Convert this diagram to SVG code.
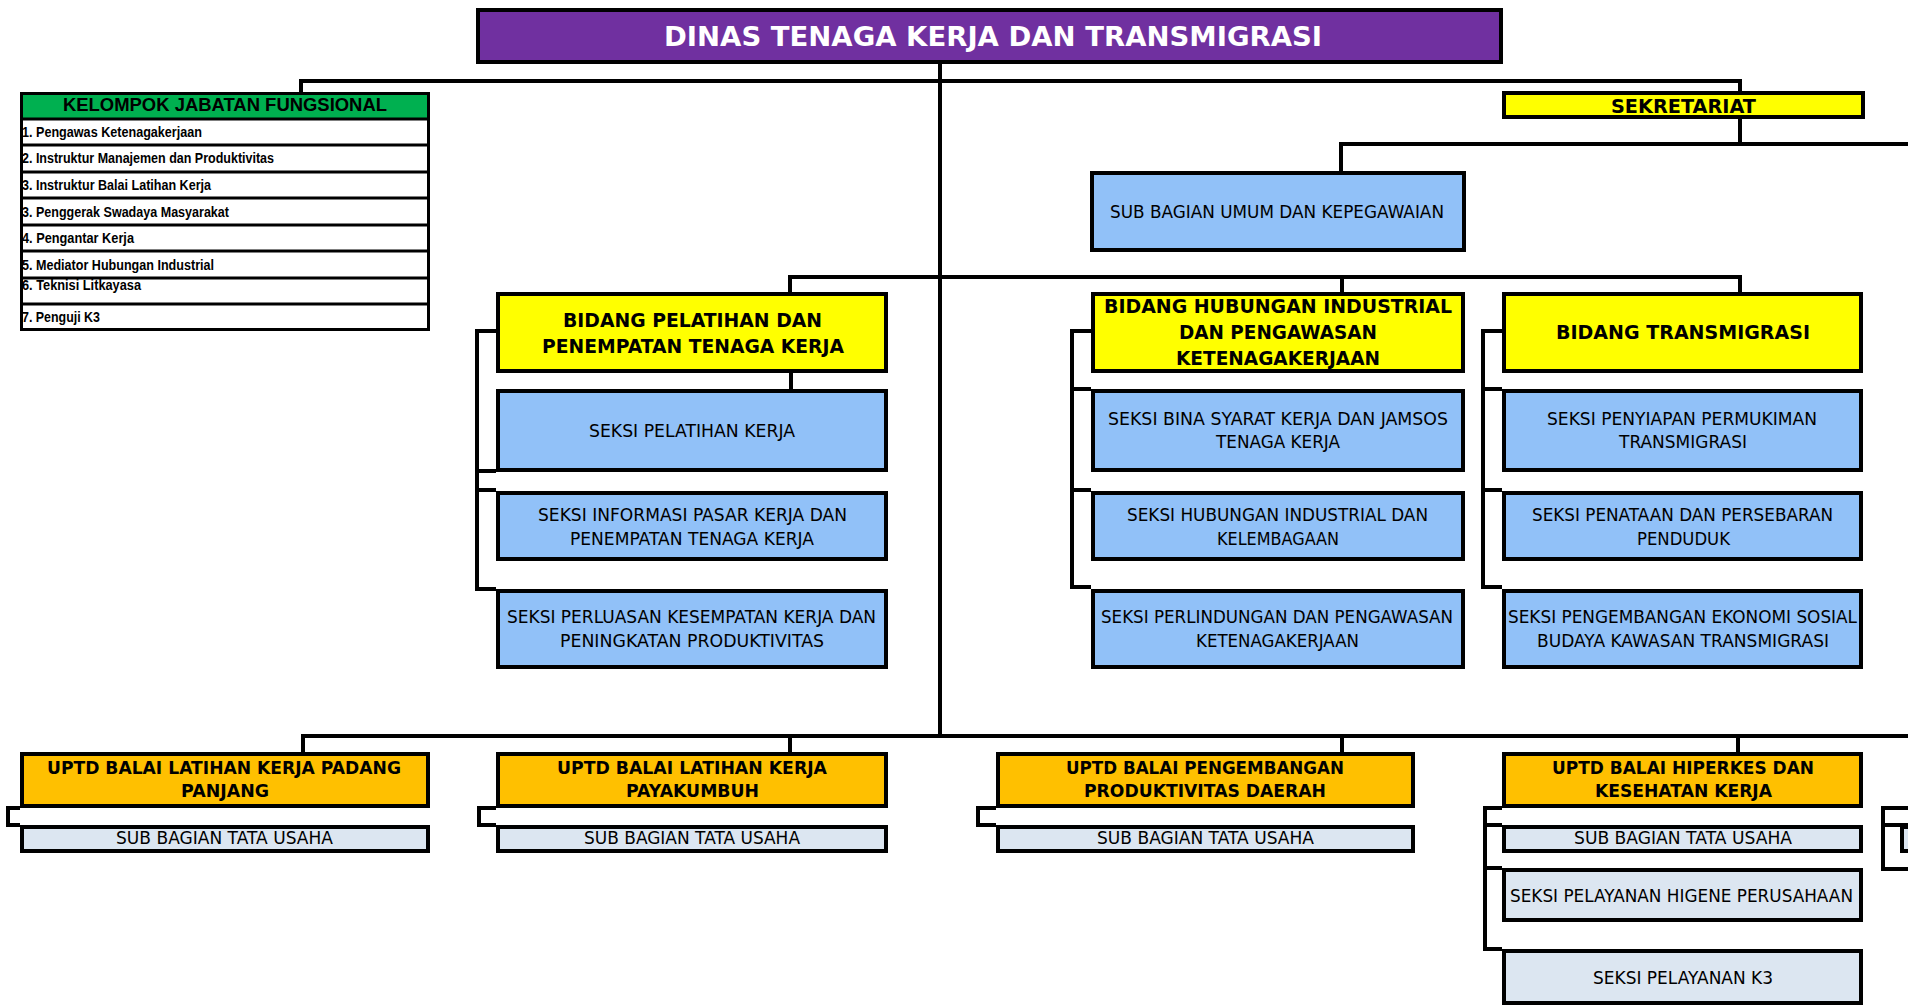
<svg xmlns="http://www.w3.org/2000/svg" width="1908" height="1005" viewBox="0 0 1908 1005">
<style>
.bx{stroke:#000;stroke-width:4}
.ti{fill:#7030A0}
.gr{fill:#00B050}
.ye{fill:#FFFF00}
.bl{fill:#91C1F8}
.or{fill:#FFC000}
.lg{fill:#DCE6F1}
.cn{fill:none;stroke:#000;stroke-width:4}
text{font-family:"DejaVu Sans","Liberation Sans",sans-serif;fill:#000;text-anchor:middle}
.tb{font-weight:bold;font-size:27px;fill:#FFFFFF}
.hb{font-weight:bold;font-size:20px}
.ub{font-weight:bold;font-size:18px}
.sr{font-size:18px}
.tu{font-size:17px}
.kh{font-family:"Liberation Sans",Arial,sans-serif;font-weight:bold;font-size:19px}
.li{font-family:"Liberation Sans",Arial,sans-serif;font-weight:bold;font-size:14px;text-anchor:start}
</style>
<rect width="1908" height="1005" fill="#FFFFFF"/>
<g id="connectors">
<path class="cn" d="M940,64 V738"/>
<path class="cn" d="M301,92 V81 H1740 V91"/>
<path class="cn" d="M1740,119 V144"/>
<path class="cn" d="M1341,171 V144 H1908"/>
<path class="cn" d="M790,292 V277 H1740 V292"/>
<path class="cn" d="M1342,277 V292"/>
<path class="cn" d="M791,373 V389"/>
<path class="cn" d="M496,331 H477 V589 H496 M477,471 H496 M477,490 H496"/>
<path class="cn" d="M1091,331 H1072 V587 H1091 M1072,389 H1091 M1072,490 H1091"/>
<path class="cn" d="M1502,331 H1483 V587 H1502 M1483,389 H1502 M1483,490 H1502"/>
<path class="cn" d="M303,752 V736 H1908"/>
<path class="cn" d="M790,736 V752 M1342,736 V752 M1738,736 V752"/>
<path class="cn" d="M20,808 H8 V825 H20"/>
<path class="cn" d="M496,808 H479 V825 H496"/>
<path class="cn" d="M996,808 H978 V825 H996"/>
<path class="cn" d="M1502,808 H1485 V949 H1502 M1485,825 H1502 M1485,868 H1502"/>
<path class="cn" d="M1908,808 H1883 V869 H1908 M1883,825 H1908"/>
</g>
<g id="title">
<rect class="bx ti" x="478" y="10" width="1023" height="52"/>
<text class="tb" x="993" y="46" textLength="658" lengthAdjust="spacingAndGlyphs">DINAS TENAGA KERJA DAN TRANSMIGRASI</text>
</g>
<g id="kelompok">
<rect x="21.5" y="93.5" width="407" height="25" class="gr"/>
<rect x="21.5" y="93.5" width="407" height="236" fill="none" stroke="#000" stroke-width="3"/>
<path fill="none" stroke="#000" stroke-width="3" d="M20,119 H430 M20,145 H430 M20,172 H430 M20,198 H430 M20,225 H430 M20,251 H430 M20,278 H430 M20,304 H430"/>
<text class="kh" x="225" y="111" textLength="324" lengthAdjust="spacingAndGlyphs">KELOMPOK JABATAN FUNGSIONAL</text>
<text class="li" x="22" y="137" textLength="180" lengthAdjust="spacingAndGlyphs">1.  Pengawas Ketenagakerjaan</text>
<text class="li" x="22" y="163" textLength="252" lengthAdjust="spacingAndGlyphs">2.  Instruktur Manajemen dan Produktivitas</text>
<text class="li" x="22" y="190" textLength="189" lengthAdjust="spacingAndGlyphs">3.  Instruktur Balai Latihan Kerja</text>
<text class="li" x="22" y="217" textLength="207" lengthAdjust="spacingAndGlyphs">3.  Penggerak Swadaya Masyarakat</text>
<text class="li" x="22" y="243" textLength="112" lengthAdjust="spacingAndGlyphs">4.  Pengantar Kerja</text>
<text class="li" x="22" y="270" textLength="192" lengthAdjust="spacingAndGlyphs">5.  Mediator Hubungan Industrial</text>
<text class="li" x="22" y="290" textLength="119" lengthAdjust="spacingAndGlyphs">6.  Teknisi Litkayasa</text>
<text class="li" x="22" y="322" textLength="78" lengthAdjust="spacingAndGlyphs">7.  Penguji K3</text>
</g>
<g id="sekretariat">
<rect class="bx ye" x="1504" y="93" width="359" height="24"/>
<text class="hb" x="1683.5" y="113" textLength="145" lengthAdjust="spacingAndGlyphs">SEKRETARIAT</text>
</g>
<g id="sub-umum">
<rect class="bx bl" x="1092" y="173" width="372" height="77"/>
<text class="sr" x="1277" y="218" textLength="334" lengthAdjust="spacingAndGlyphs">SUB BAGIAN UMUM DAN KEPEGAWAIAN</text>
</g>
<g id="bidang-pelatihan">
<rect class="bx ye" x="498" y="294" width="388" height="77"/>
<text class="hb" x="692.5" y="327" textLength="259" lengthAdjust="spacingAndGlyphs">BIDANG PELATIHAN DAN</text>
<text class="hb" x="693" y="353" textLength="302" lengthAdjust="spacingAndGlyphs">PENEMPATAN TENAGA KERJA</text>
</g>
<g id="seksi-pelatihan">
<rect class="bx bl" x="498" y="391" width="388" height="79"/>
<text class="sr" x="692" y="437" textLength="206" lengthAdjust="spacingAndGlyphs">SEKSI PELATIHAN KERJA</text>
</g>
<g id="seksi-informasi">
<rect class="bx bl" x="498" y="493" width="388" height="66"/>
<text class="sr" x="692.5" y="521" textLength="309" lengthAdjust="spacingAndGlyphs">SEKSI INFORMASI PASAR KERJA DAN</text>
<text class="sr" x="692" y="545" textLength="244" lengthAdjust="spacingAndGlyphs">PENEMPATAN TENAGA KERJA</text>
</g>
<g id="seksi-perluasan">
<rect class="bx bl" x="498" y="591" width="388" height="76"/>
<text class="sr" x="691.5" y="623" textLength="369" lengthAdjust="spacingAndGlyphs">SEKSI PERLUASAN KESEMPATAN KERJA DAN</text>
<text class="sr" x="692" y="647" textLength="264" lengthAdjust="spacingAndGlyphs">PENINGKATAN PRODUKTIVITAS</text>
</g>
<g id="bidang-hi">
<rect class="bx ye" x="1093" y="294" width="370" height="77"/>
<text class="hb" x="1278" y="313" textLength="348" lengthAdjust="spacingAndGlyphs">BIDANG HUBUNGAN INDUSTRIAL</text>
<text class="hb" x="1278" y="339" textLength="198" lengthAdjust="spacingAndGlyphs">DAN PENGAWASAN</text>
<text class="hb" x="1278" y="365" textLength="204" lengthAdjust="spacingAndGlyphs">KETENAGAKERJAAN</text>
</g>
<g id="seksi-bina">
<rect class="bx bl" x="1093" y="391" width="370" height="79"/>
<text class="sr" x="1278" y="425" textLength="340" lengthAdjust="spacingAndGlyphs">SEKSI BINA SYARAT KERJA DAN JAMSOS</text>
<text class="sr" x="1278" y="448" textLength="124" lengthAdjust="spacingAndGlyphs">TENAGA KERJA</text>
</g>
<g id="seksi-hubungan">
<rect class="bx bl" x="1093" y="493" width="370" height="66"/>
<text class="sr" x="1277.5" y="521" textLength="301" lengthAdjust="spacingAndGlyphs">SEKSI HUBUNGAN INDUSTRIAL DAN</text>
<text class="sr" x="1278" y="545" textLength="122" lengthAdjust="spacingAndGlyphs">KELEMBAGAAN</text>
</g>
<g id="seksi-perlindungan">
<rect class="bx bl" x="1093" y="591" width="370" height="76"/>
<text class="sr" x="1277" y="623" textLength="352" lengthAdjust="spacingAndGlyphs">SEKSI PERLINDUNGAN DAN PENGAWASAN</text>
<text class="sr" x="1277.5" y="647" textLength="163" lengthAdjust="spacingAndGlyphs">KETENAGAKERJAAN</text>
</g>
<g id="bidang-transmigrasi">
<rect class="bx ye" x="1504" y="294" width="357" height="77"/>
<text class="hb" x="1683" y="339" textLength="254" lengthAdjust="spacingAndGlyphs">BIDANG TRANSMIGRASI</text>
</g>
<g id="seksi-penyiapan">
<rect class="bx bl" x="1504" y="391" width="357" height="79"/>
<text class="sr" x="1682" y="425" textLength="270" lengthAdjust="spacingAndGlyphs">SEKSI PENYIAPAN PERMUKIMAN</text>
<text class="sr" x="1683" y="448" textLength="128" lengthAdjust="spacingAndGlyphs">TRANSMIGRASI</text>
</g>
<g id="seksi-penataan">
<rect class="bx bl" x="1504" y="493" width="357" height="66"/>
<text class="sr" x="1682.5" y="521" textLength="301" lengthAdjust="spacingAndGlyphs">SEKSI PENATAAN DAN PERSEBARAN</text>
<text class="sr" x="1683.5" y="545" textLength="93" lengthAdjust="spacingAndGlyphs">PENDUDUK</text>
</g>
<g id="seksi-pengembangan">
<rect class="bx bl" x="1504" y="591" width="357" height="76"/>
<text class="sr" x="1682.5" y="623" textLength="349" lengthAdjust="spacingAndGlyphs">SEKSI PENGEMBANGAN EKONOMI SOSIAL</text>
<text class="sr" x="1683" y="647" textLength="292" lengthAdjust="spacingAndGlyphs">BUDAYA KAWASAN TRANSMIGRASI</text>
</g>
<g id="uptd-padang-panjang">
<rect class="bx or" x="22" y="754" width="406" height="52"/>
<text class="ub" x="224" y="774" textLength="354" lengthAdjust="spacingAndGlyphs">UPTD BALAI LATIHAN KERJA PADANG</text>
<text class="ub" x="225" y="797" textLength="88" lengthAdjust="spacingAndGlyphs">PANJANG</text>
</g>
<g id="tu-padang-panjang">
<rect class="bx lg" x="22" y="827" width="406" height="24"/>
<text class="tu" x="224.5" y="844" textLength="217" lengthAdjust="spacingAndGlyphs">SUB BAGIAN TATA USAHA</text>
</g>
<g id="uptd-payakumbuh">
<rect class="bx or" x="498" y="754" width="388" height="52"/>
<text class="ub" x="692" y="774" textLength="270" lengthAdjust="spacingAndGlyphs">UPTD BALAI LATIHAN KERJA</text>
<text class="ub" x="692.5" y="797" textLength="133" lengthAdjust="spacingAndGlyphs">PAYAKUMBUH</text>
</g>
<g id="tu-payakumbuh">
<rect class="bx lg" x="498" y="827" width="388" height="24"/>
<text class="tu" x="692" y="844" textLength="216" lengthAdjust="spacingAndGlyphs">SUB BAGIAN TATA USAHA</text>
</g>
<g id="uptd-produktivitas">
<rect class="bx or" x="998" y="754" width="415" height="52"/>
<text class="ub" x="1205" y="774" textLength="278" lengthAdjust="spacingAndGlyphs">UPTD BALAI PENGEMBANGAN</text>
<text class="ub" x="1205" y="797" textLength="242" lengthAdjust="spacingAndGlyphs">PRODUKTIVITAS DAERAH</text>
</g>
<g id="tu-produktivitas">
<rect class="bx lg" x="998" y="827" width="415" height="24"/>
<text class="tu" x="1205.5" y="844" textLength="217" lengthAdjust="spacingAndGlyphs">SUB BAGIAN TATA USAHA</text>
</g>
<g id="uptd-hiperkes">
<rect class="bx or" x="1504" y="754" width="357" height="52"/>
<text class="ub" x="1683" y="774" textLength="262" lengthAdjust="spacingAndGlyphs">UPTD BALAI HIPERKES DAN</text>
<text class="ub" x="1683.5" y="797" textLength="177" lengthAdjust="spacingAndGlyphs">KESEHATAN KERJA</text>
</g>
<g id="tu-hiperkes">
<rect class="bx lg" x="1504" y="827" width="357" height="24"/>
<text class="tu" x="1683" y="844" textLength="218" lengthAdjust="spacingAndGlyphs">SUB BAGIAN TATA USAHA</text>
</g>
<g id="seksi-higene">
<rect class="bx lg" x="1504" y="870" width="357" height="50"/>
<text class="tu" x="1681.5" y="902" textLength="343" lengthAdjust="spacingAndGlyphs">SEKSI PELAYANAN HIGENE PERUSAHAAN</text>
</g>
<g id="seksi-k3">
<rect class="bx lg" x="1504" y="951" width="357" height="52"/>
<text class="tu" x="1683" y="984" textLength="180" lengthAdjust="spacingAndGlyphs">SEKSI PELAYANAN K3</text>
</g>
<g id="partial-right">
<rect class="bx lg" x="1902" y="827" width="20" height="24"/>
</g>
</svg>
